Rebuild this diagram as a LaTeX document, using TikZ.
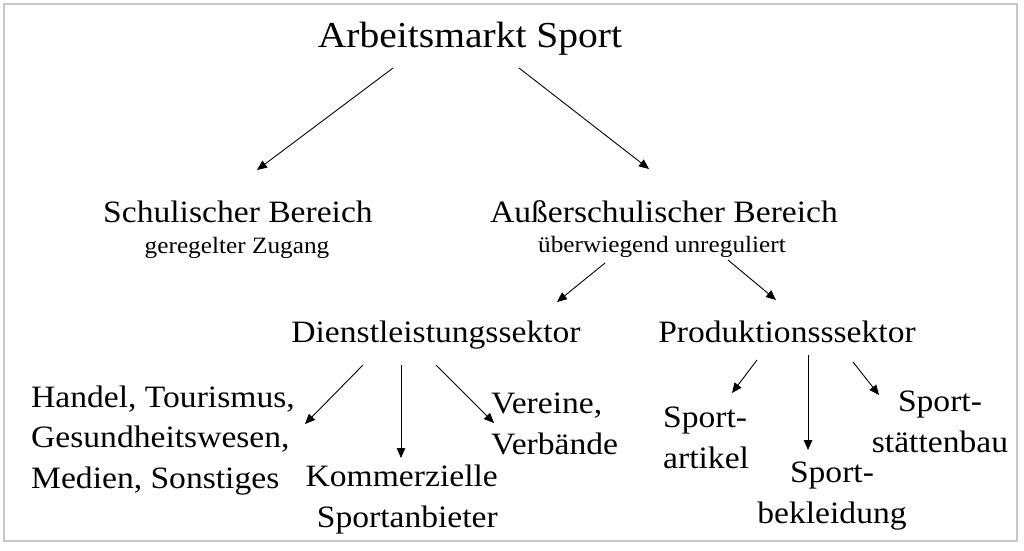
\documentclass[tikz,border=0pt]{standalone}
\usepackage{fontspec}
\setmainfont{Liberation Serif}[FakeStretch=1.08]
\usetikzlibrary{arrows.meta,calc}
\tikzset{
  big/.style={inner sep=0pt, font=\fontsize{36.6}{46}\selectfont},
  mid/.style={inner sep=0pt, font=\fontsize{31.1}{40.5}\selectfont},
  small/.style={inner sep=0pt, font=\fontsize{23.4}{30}\selectfont},
  arr/.style={line width=0.9pt, -{Triangle[length=10pt,width=8.5pt]}},
  frame/.style={draw=black!22, line width=1.3pt}
}
\begin{document}
\begin{tikzpicture}[x=1pt,y=-1pt]
\useasboundingbox (0,0) rectangle (1024,550);
\fill[white] (0,0) rectangle (1024,550);
\draw[frame] (4,4) rectangle (1017,541);

\node[big, anchor=base] (top) at (470,47) {Arbeitsmarkt Sport};
\node[mid, anchor=base] (schul) at (238,222) {Schulischer Bereich};
\node[small, anchor=base] (schulsub) at (237,253) {geregelter Zugang};
\node[mid, anchor=base] (aus) at (664,222) {Außerschulischer Bereich};
\node[small, anchor=base] (aussub) at (662,252) {überwiegend unreguliert};
\node[mid, anchor=base] (dienst) at (436,342) {Dienstleistungssektor};
\node[mid, anchor=base] (prod) at (787,342) {Produktionsssektor};

% base anchor of a multi-line node = baseline of its last line
\node[mid, anchor=base west, align=left] (handel) at (31,488) {Handel, Tourismus,\\Gesundheitswesen,\\Medien, Sonstiges};
\node[mid, anchor=base east, align=right] (komm) at (498,527) {Kommerzielle\\Sportanbieter};
\node[mid, anchor=base west, align=left] (vereine) at (491,454) {Vereine,\\Verbände};
\node[mid, anchor=base west, align=left] (artikel) at (663,468) {Sport-\\artikel};
\node[mid, anchor=base, align=center] (bekl) at (832,523) {Sport-\\bekleidung};
\node[mid, anchor=base, align=center] (staett) at (940,452) {Sport-\\stättenbau};

\draw[arr] ($(top.base)+(-77,21)$) -- ($(schul.base)+(19,-52)$);
\draw[arr] ($(top.base)+(49,21)$) -- ($(aus.base)+(-15,-53)$);
\draw[arr] ($(aussub.base)+(-57,11)$) -- ($(dienst.base)+(121,-40)$);
\draw[arr] ($(aussub.base)+(66,8)$) -- ($(prod.base)+(-11,-42)$);
\draw[arr] ($(dienst.base)+(-73,23)$) -- ($(handel.base west)+(274,-64)$);
\draw[arr] ($(dienst.base)+(-35,23)$) -- ($(komm.base east)+(-97,-69)$);
\draw[arr] ($(dienst.base)+(0,23)$) -- ($(vereine.base west)+(3,-31)$);
\draw[arr] ($(prod.base)+(-30,18)$) -- ($(artikel.base west)+(69,-75)$);
\draw[arr] ($(prod.base)+(21,13)$) -- ($(bekl.base)+(-24,-73)$);
\draw[arr] ($(prod.base)+(66,20)$) -- ($(staett.base)+(-61,-57)$);
\end{tikzpicture}
\end{document}
